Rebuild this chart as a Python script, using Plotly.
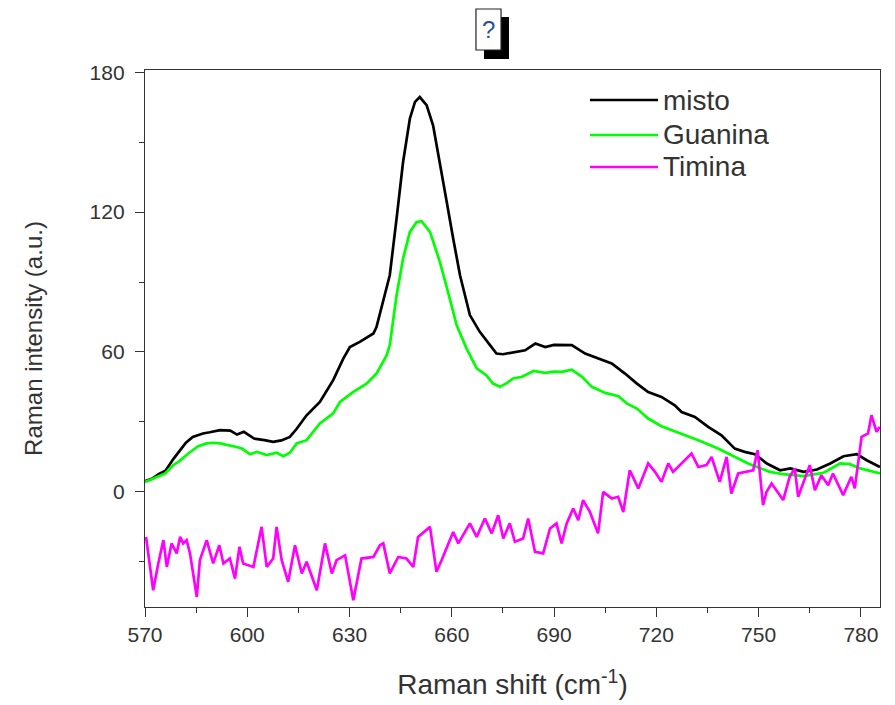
import plotly.graph_objects as go

# ---- data ----
misto_x = [570, 572, 574, 576, 578.3, 580, 582, 584, 587, 589, 592, 595, 597, 599, 602, 605, 607.6, 610, 612.5, 614.5,
           617.4, 621.3, 625.2, 628.2, 630.1, 633, 637, 637.9, 639.9, 641.8, 643.8, 645.7, 647.7, 649.2, 650.6, 652.6,
           654.5, 656.5, 658.5, 660.4, 662.4, 665.3, 668.2, 671.2, 673.1, 675, 677.6, 681.5, 684.5, 687.4, 690, 692.3,
           695.2, 699.1, 703, 706.9, 710.8, 714.3, 717.6, 721.5, 725.4, 727.4, 731.3, 735.2, 739.1, 743, 745.9, 748.9,
           752.4, 756.3, 759.3, 763.2, 767.1, 771, 774.9, 778.8, 781.7, 785.6]
misto_y = [4.5, 5.5, 7.5, 9, 14, 17, 21, 23.5, 25, 25.5, 26.4, 26.2, 24.5, 25.7, 22.8, 22.1, 21.4, 22, 23.5, 27,
           32.8, 38.5, 47.9, 57.2, 62.1, 64.3, 67.9, 70.7, 82.2, 92.9, 117.3, 141.5, 160.2, 167.3, 169.4, 165.9,
           157.3, 141.5, 124.4, 108.7, 92.9, 75.8, 68.6, 62.9, 59.3, 59, 59.6, 60.7, 63.6, 62.1, 63, 62.9,
           62.9, 59.3, 57.2, 55, 50.7, 46.4, 42.8, 40.7, 37.1, 34.2, 32.1, 27.8, 24.2, 18.5, 17.1, 16.1,
           12.1, 9.2, 10, 8.5, 9.5, 12.1, 15.2, 16.1, 13.5, 10.6]

guanina_x = [570, 572, 574.4, 575.9, 578.3, 580, 582.7, 585.6, 588.1, 590, 592, 594.4, 596.9, 598.4, 600.8, 602.8,
             605.7, 608.6, 610.6, 612.5, 614.5, 617.4, 621.3, 625.2, 627.2, 631.1, 635, 637.9, 640.9, 641.8, 643.8,
             645.7, 647.7, 649.7, 651.1, 653.6, 656.5, 659.4, 661.4, 664.3, 667.3, 670.1, 672.1, 674.1, 676, 678,
             680.6, 684, 687.4, 690, 692.3, 695.2, 698.2, 701.1, 705, 708.9, 711.3, 714.3, 717.6, 721.5, 727.4,
             732.3, 738.1, 743, 746.9, 749.9, 753.3, 757.3, 763.2, 769, 773.9, 776.8, 779.8, 785.6]
guanina_y = [4.2, 5.5, 6.8, 7.8, 11.4, 13, 16.4, 19.5, 20.7, 21, 20.7, 20, 19.2, 18.5, 16.1, 17.1,
             15.7, 16.7, 15.2, 16.7, 20.7, 22.1, 29.3, 33.6, 38.5, 42.8, 46.4, 50.7, 58.6, 62.9, 84.3,
             100.1, 111.5, 115.8, 116.1, 111.5, 98.6, 82.9, 71.5, 61.5, 52.9, 50, 46.4, 45, 46.5, 48.6,
             49.3, 51.8, 51, 51.5, 51.4, 52.4, 49.3, 45, 42.4, 41, 37.9, 35.7, 31.4, 28.1, 25,
             22.1, 18.5, 14.9, 12.1, 10.4, 8.5, 7.5, 6.7, 8.1, 12.1, 11.8, 10, 7.8]

timina_x = [570.3, 572.4, 573.9, 575.4, 576.4, 577.8, 579.3, 580.3, 581.2, 582.2, 583.2, 585.2, 586.1, 588.1, 590,
            591.8, 593, 594.9, 596.4, 597.7, 598.8, 601.8, 604.2, 605.7, 607.6, 608.6, 610.1, 612, 614, 616,
            617.4, 620.4, 622.8, 624.8, 626.2, 628.7, 631.1, 633.5, 637, 638.9, 639.9, 641.8, 644.3, 646.7,
            648.7, 650.1, 653.6, 655.5, 657, 660.4, 661.9, 665.3, 667.3, 669.7, 671.7, 673.6, 675.1, 677,
            678.5, 680.9, 682.4, 684.4, 686.8, 688.8, 690.7, 692.2, 693.7, 695.6, 697.1, 698.5, 700.5, 702.9,
            704.4, 706.9, 708.8, 710.3, 712.2, 714.7, 717.6, 719.6, 721.5, 723.5, 724.9, 727.4, 730.3, 732.3,
            734.7, 736.2, 738.6, 740.6, 742, 744, 746.5, 748.4, 749.7, 751.3, 752.3, 753.8, 757.2, 759.1,
            760.6, 761.6, 765, 766.5, 768.4, 770.4, 771.8, 774.8, 777.2, 778.2, 780.2, 782.1, 783.1, 784.6, 785.5]
timina_y = [-19.4, -42.3, -30.8, -20.8, -32.3, -22.2, -26.5, -19.4, -22.2, -20.8, -26.5, -45.2, -29.4, -20.8, -30.8,
            -23, -30.8, -28.7, -37.3, -23.7, -30.8, -32.3, -15.1, -32.3, -28.7, -15.1, -29.4, -38.7, -23, -35.1,
            -30.1, -42.3, -22.2, -35.1, -29.4, -27.3, -46.6, -28.7, -28, -23, -22.2, -35.1, -28, -28.7,
            -32.3, -19.4, -15.1, -34.4, -29.4, -17.3, -22.2, -13.6, -19.4, -11.5, -17.9, -10.1, -20.1, -13.6,
            -21.5, -20.1, -11.5, -25.8, -26.5, -15.8, -13.6, -22.2, -13.6, -7.2, -12.2, -3.6, -8.7, -17.9,
            -0.1, -2.9, -2.2, -8.7, 9.2, 1.4, 12.1, 8.5, 4.2, 12.1, 8.5, 12.1, 16.4, 10.6,
            11.4, 14.9, 4.2, 14.9, -0.8, 7.8, 8.5, 9.2, 17.8, -5.8, -0.1, 3.5, -3.6, 6.4,
            10, -2.2, 11.4, 0.6, 7.1, 2.8, 7.8, -1.5, 6.4, 1.4, 23.5, 25, 32.8, 25.7, 27.8]

series_names = ["misto", "Guanina", "Timina"]
series_colors = ["#000000", "#00ff00", "#ff00ff"]

x_ticks = [570, 600, 630, 660, 690, 720, 750, 780]
y_ticks = [0, 60, 120, 180]

FONT = "Liberation Sans, Arial, sans-serif"
TXT = "#333333"

fig = go.Figure()
for name, xs, ys, col in zip(series_names, [misto_x, guanina_x, timina_x],
                             [misto_y, guanina_y, timina_y], series_colors):
    fig.add_trace(go.Scatter(x=xs, y=ys, mode="lines", name=name,
                             line=dict(color=col, width=2.7), showlegend=False))

# manual legend (long line samples as in the reference)
leg_rows = [0.9441, 0.879, 0.8194]
for name, col, yy in zip(series_names, series_colors, leg_rows):
    fig.add_shape(type="line", xref="paper", yref="paper", x0=0.6054, x1=0.698, y0=yy, y1=yy,
                  line=dict(color=col, width=2.7))
    fig.add_annotation(xref="paper", yref="paper", x=0.702, y=yy, text=name, showarrow=False,
                       xanchor="left", yanchor="middle", font=dict(family=FONT, size=28, color=TXT))

# title: broken-image glyph
fig.add_shape(type="rect", xref="paper", yref="paper", x0=0.4612, x1=0.4952, y0=1.0205, y1=1.0987,
              fillcolor="#000000", line=dict(width=0))
fig.add_shape(type="rect", xref="paper", yref="paper", x0=0.4503, x1=0.4844, y0=1.0372, y1=1.1136,
              fillcolor="#ffffff", line=dict(color="#222222", width=1.2))
fig.add_annotation(xref="paper", yref="paper", x=0.4673, y=1.0755, text="?", showarrow=False,
                   xanchor="center", yanchor="middle",
                   font=dict(family="Liberation Sans, Arial", size=24, color="#2b4f96"))

axis_common = dict(showline=True, linecolor="#333333", linewidth=1.3, mirror=True,
                   ticks="outside", ticklen=9, tickwidth=1.3, tickcolor="#333333",
                   showgrid=False, zeroline=False, automargin=False,
                   tickfont=dict(family=FONT, size=21, color=TXT))

fig.update_xaxes(range=[570, 785.6], tickvals=x_ticks,
                 minor=dict(ticks="outside", ticklen=5, tickwidth=1.3, tickcolor="#333333", dtick=15, tick0=570),
                 title=dict(text="Raman shift (cm<sup>-1</sup>)", standoff=29,
                            font=dict(family=FONT, size=28, color=TXT)),
                 **axis_common)
fig.update_yaxes(range=[-49.5, 181], tickvals=y_ticks, ticklabelstandoff=6,
                 minor=dict(ticks="outside", ticklen=5, tickwidth=1.3, tickcolor="#333333", dtick=30, tick0=0),
                 title=dict(text="Raman intensity (a.u.)", standoff=40,
                            font=dict(family=FONT, size=24, color=TXT)),
                 **axis_common)

# the page body adds an 8px offset, so the figure is sized/margined to compensate
fig.update_layout(width=887, height=697, margin=dict(l=137, r=15, t=62, b=98),
                  plot_bgcolor="#ffffff", paper_bgcolor="#ffffff", showlegend=False)

fig.write_html("out.html")
